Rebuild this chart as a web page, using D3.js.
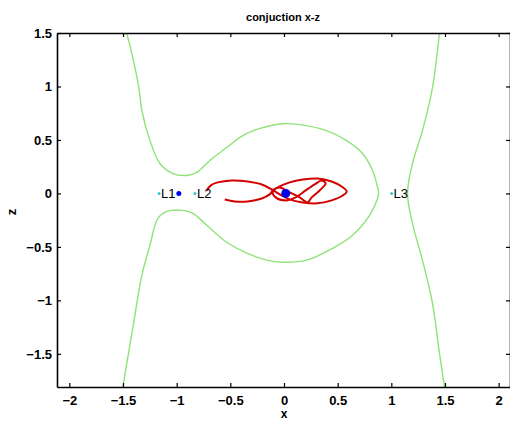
<!DOCTYPE html>
<html>
<head>
<meta charset="utf-8">
<script src="https://cdn.jsdelivr.net/npm/d3@7"></script>
<style>
  body { margin: 0; background: #fff; }
  text { font-family: "Liberation Sans", Arial, sans-serif; }
</style>
</head>
<body>
<svg id="chart" width="510" height="423"></svg>
<script>
// zero velocity curve, left branch + inner lobe (x, z)
const zvcLeft = [
  [-1.48, 1.55], [-1.463, 1.49], [-1.417, 1.305], [-1.352, 0.988], [-1.324, 0.773],
  [-1.249, 0.494], [-1.156, 0.28], [-1.035, 0.186], [-0.905, 0.168], [-0.812, 0.196],
  [-0.691, 0.308], [-0.533, 0.429], [-0.384, 0.541], [-0.198, 0.615], [-0.012, 0.652],
  [0.146, 0.643], [0.397, 0.587], [0.584, 0.494], [0.732, 0.373], [0.825, 0.214],
  [0.872, 0.056], [0.881, 0], [0.872, -0.047], [0.797, -0.205], [0.639, -0.391],
  [0.453, -0.513], [0.211, -0.624], [-0.012, -0.643], [-0.161, -0.624], [-0.347, -0.559],
  [-0.533, -0.457], [-0.719, -0.298], [-0.849, -0.186], [-0.942, -0.158], [-1.091, -0.168],
  [-1.175, -0.233], [-1.249, -0.485], [-1.324, -0.764], [-1.407, -1.249], [-1.5, -1.808],
  [-1.505, -1.85]
]
// zero velocity curve, right branch
const zvcRight = [
  [1.455, 1.55], [1.448, 1.491], [1.383, 0.988], [1.29, 0.587], [1.197, 0.28],
  [1.151, 0], [1.197, -0.28], [1.29, -0.624], [1.383, -1.025], [1.448, -1.491],
  [1.495, -1.808], [1.5, -1.85]
]
// trajectory
const orbit = [
  [-0.719, 0.028], [-0.682, 0.075], [-0.617, 0.103], [-0.487, 0.121], [-0.338, 0.112],
  [-0.207, 0.084], [-0.114, 0.037], [-0.04, -0.009], [0.053, -0.056], [0.174, -0.084],
  [0.313, -0.093], [0.444, -0.065], [0.547, -0.019], [0.584, 0.019], [0.537, 0.065],
  [0.444, 0.112], [0.313, 0.14], [0.174, 0.13], [0.053, 0.103], [-0.04, 0.065],
  [-0.105, 0.019], [-0.077, -0.037], [0.016, -0.065], [0.109, -0.037], [0.202, 0.028],
  [0.286, 0.084], [0.351, 0.121], [0.388, 0.093], [0.332, 0.028], [0.258, -0.037],
  [0.22, -0.084], [0.146, -0.037], [0.053, 0.009], [-0.04, 0.056], [-0.096, 0.037],
  [-0.133, -0.009], [-0.207, -0.047], [-0.338, -0.075], [-0.459, -0.075], [-0.552, -0.056]
]
// libration points and primaries
const lagrangeNames = ["L1", "L2", "L3"]
const lagrangeX = [-1.164, -0.83, 1.002]
const primaryX = [0.016, -0.98]
const primaryR = [4.5, 2.5]

const xTicks = [-2, -1.5, -1, -0.5, 0, 0.5, 1, 1.5, 2]
const zTicks = [-1.5, -1, -0.5, 0, 0.5, 1, 1.5]

const svg = d3.select("#chart")
const mLeft = 57, mRight = 511, mTop = 33, mBottom = 387

const x = d3.scaleLinear().domain([-2.115, 2.115]).range([mLeft, mRight])
const z = d3.scaleLinear().domain([-1.81, 1.5]).range([mBottom, mTop])

svg.append("clipPath").attr("id", "clip")
  .append("rect")
  .attr("x", mLeft).attr("y", mTop)
  .attr("width", mRight - mLeft).attr("height", mBottom - mTop)

const plot = svg.append("g").attr("clip-path", "url(#clip)")

const line = d3.line()
  .x(d => x(d[0]))
  .y(d => z(d[1]))
  .curve(d3.curveCatmullRom)

// green curves
plot.selectAll(".zvc")
  .data([zvcLeft, zvcRight])
  .join("path")
  .attr("d", line)
  .attr("fill", "none")
  .attr("stroke", "#8fe27a")
  .attr("stroke-width", 1.4)

// orbit
plot.append("path")
  .attr("d", line(orbit))
  .attr("fill", "none")
  .attr("stroke", "#d40000")
  .attr("stroke-width", 2)
  .attr("stroke-linejoin", "round")

// libration markers
plot.selectAll(".lp")
  .data(lagrangeX)
  .join("circle")
  .attr("cx", d => x(d))
  .attr("cy", z(0))
  .attr("r", 1.5)
  .attr("fill", "#3cc4c4")

plot.selectAll(".lbl")
  .data(lagrangeNames)
  .join("text")
  .attr("x", (d, i) => x(lagrangeX[i]) + 2)
  .attr("y", z(0))
  .attr("dy", "0.36em")
  .attr("font-size", 13)
  .attr("fill", "#000")
  .text(d => d)

// primaries
plot.selectAll(".prim")
  .data(primaryX)
  .join("circle")
  .attr("cx", d => x(d))
  .attr("cy", z(0))
  .attr("r", (d, i) => primaryR[i])
  .attr("fill", "#0000f0")

// axes (ticks pointing inward)
const fmt = d => d3.format("")(d)

svg.append("g")
  .attr("transform", `translate(0,${mBottom})`)
  .call(d3.axisBottom(x).tickValues(xTicks).tickSizeInner(-4).tickSizeOuter(0).tickPadding(9).tickFormat(fmt))
svg.append("g")
  .attr("transform", `translate(${mLeft},0)`)
  .call(d3.axisLeft(z).tickValues(zTicks).tickSizeInner(-4).tickSizeOuter(0).tickPadding(5).tickFormat(fmt))
svg.append("g")
  .attr("transform", `translate(0,${mTop})`)
  .call(d3.axisTop(x).tickValues(xTicks).tickSizeInner(-4).tickSizeOuter(0).tickFormat(""))
svg.append("g")
  .attr("transform", `translate(${mRight - 1},0)`)
  .call(d3.axisRight(z).tickValues(zTicks).tickSizeInner(-4).tickSizeOuter(0).tickFormat(""))

svg.selectAll(".domain").attr("stroke", "#000").attr("stroke-width", 1.6)
svg.selectAll(".tick line").attr("stroke", "#000").attr("stroke-width", 1.2)
svg.selectAll(".tick text")
  .attr("font-family", "Liberation Sans, Arial, sans-serif")
  .attr("font-size", 13)
  .attr("font-weight", "bold")
  .attr("fill", "#000")

// titles
svg.append("text")
  .attr("x", 283).attr("y", 21)
  .attr("text-anchor", "middle")
  .attr("font-size", 11)
  .attr("font-weight", "bold")
  .text("conjuction x-z")

svg.append("text")
  .attr("x", 284).attr("y", 418)
  .attr("text-anchor", "middle")
  .attr("font-size", 12)
  .attr("font-weight", "bold")
  .text("x")

svg.append("text")
  .attr("transform", "translate(16,212) rotate(-90)")
  .attr("text-anchor", "middle")
  .attr("font-size", 13)
  .attr("font-weight", "bold")
  .text("z")
</script>
</body>
</html>
